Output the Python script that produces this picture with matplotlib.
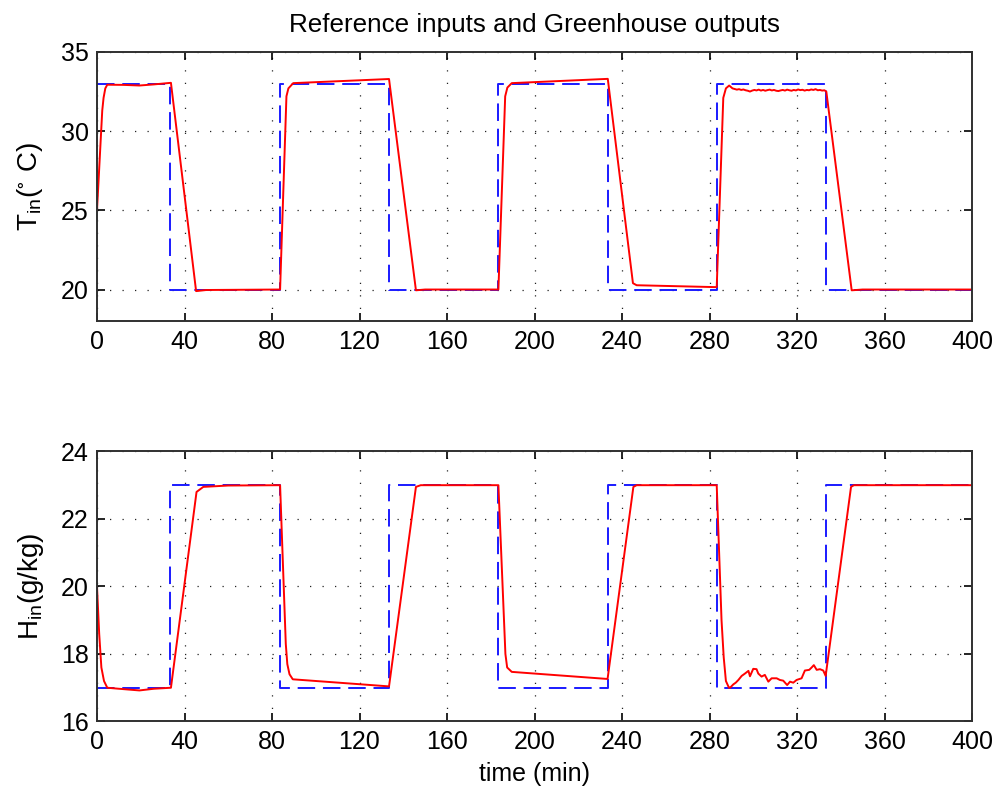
import matplotlib
matplotlib.use("Agg")
import matplotlib.pyplot as plt
import numpy as np

plt.rcParams['font.family'] = ['Liberation Sans', 'DejaVu Sans']
plt.rcParams['mathtext.fontset'] = 'custom'
plt.rcParams['mathtext.rm'] = 'Liberation Sans'

# reference (setpoint) steps
ref_t = [0, 33.5, 83.5, 133.5, 183.5, 233.5, 283.4, 333.4, 400]
T_ref = [33, 20, 33, 20, 33, 20, 33, 20, 20]
H_ref = [17, 23, 17, 23, 17, 23, 17, 23, 23]

# greenhouse inside temperature
T_t = [0, 2.4, 3.0, 3.8, 4.7, 12, 19.4, 26, 33.8, 45.3, 50, 83.7,
       86.6, 87.5, 89.7, 133.5, 145.8, 150, 183.5,
       186.6, 187.6, 189.6, 233.5, 245.0, 246.7, 283.3,
       286.3, 287.5, 289, 290.5, 291.5, 292.5, 293.5, 294.5, 295.5, 296.5,
       297.5, 298.5, 299.5, 300.5, 301.5, 302.5, 303.5, 304.5, 305.5, 306.5,
       307.5, 308.5, 309.5, 310.5, 311.5, 312.5, 313.5, 314.5, 315.5, 316.5,
       317.5, 318.5, 319.5, 320.5, 321.5, 322.5, 323.5, 324.5, 325.5, 326.5,
       327.5, 328.5, 329.5, 330.5, 331.5, 332.5, 333.4,
       345.0, 350, 400]
T_in = [25, 31.3, 32.1, 32.7, 32.93, 32.92, 32.88, 32.95, 33.05, 19.9, 19.97, 20.0,
        32.2, 32.7, 33.03, 33.29, 19.95, 20.0, 20.0,
        32.2, 32.75, 33.03, 33.3, 20.4, 20.27, 20.15,
        32.1, 32.7, 32.88, 32.7, 32.66, 32.62, 32.65, 32.6, 32.63, 32.58,
        32.55, 32.5, 32.56, 32.6, 32.57, 32.62, 32.56, 32.6, 32.55, 32.59,
        32.62, 32.57, 32.6, 32.55, 32.53, 32.57, 32.6, 32.56, 32.62, 32.58,
        32.55, 32.6, 32.57, 32.63, 32.59, 32.61, 32.56, 32.6, 32.58, 32.63,
        32.6, 32.65, 32.58, 32.6, 32.56, 32.58, 32.5,
        19.95, 20.0, 20.0]

# greenhouse inside humidity
H_t = [0, 1, 2, 3.2, 4.7, 10, 19.4, 26, 33.8, 45.5, 48.6, 60, 83.7,
       86.3, 87.0, 88, 89.5, 133.5, 145.8, 148, 183.5,
       186.7, 187.5, 189.6, 233.4, 245.2, 246.7, 283.3,
       285.5, 286.5, 287.5, 288.9,
       289.4, 290.9, 292.0, 293.2, 294.7, 296.2, 297.8, 298.5, 300.0, 301.5,
       302.3, 303.8, 305.3, 306.9, 308.4, 310.7, 312.2, 313.7, 315.5, 316.8,
       318.3, 319.8, 322.1, 323.6, 325.6, 326.7, 327.7, 329.0, 330.5, 332.0,
       333.1, 344.7, 346, 400]
H_in = [20.0, 18.6, 17.6, 17.2, 17.0, 16.97, 16.92, 16.97, 17.0, 22.8, 22.95, 22.99, 23.0,
        18.3, 17.7, 17.4, 17.25, 17.04, 22.95, 23.0, 23.0,
        18.0, 17.6, 17.47, 17.26, 22.95, 23.0, 23.0,
        19.0, 17.9, 17.2, 17.0,
        17.0, 17.1, 17.15, 17.23, 17.35, 17.42, 17.5, 17.34, 17.56, 17.55,
        17.42, 17.33, 17.38, 17.18, 17.28, 17.28, 17.23, 17.21, 17.08, 17.18,
        17.15, 17.23, 17.28, 17.51, 17.53, 17.6, 17.67, 17.53, 17.55, 17.51,
        17.35, 22.95, 23.0, 23.0]

x_ticks = [0, 40, 80, 120, 160, 200, 240, 280, 320, 360, 400]

fig = plt.figure(figsize=(10, 7.99), dpi=100)
ax1 = fig.add_axes([0.097, 0.598, 0.875, 0.337])
ax2 = fig.add_axes([0.097, 0.097, 0.875, 0.338])


def style_axis(ax):
    ax.set_xlim(0, 400)
    ax.set_xticks(x_ticks)
    ax.grid(True, color='#222222', linestyle=(0, (1, 9)), linewidth=0.9)
    ax.tick_params(direction='in', length=6, width=1.2, labelsize=18,
                   top=True, right=True, pad=6)
    for s in ax.spines.values():
        s.set_linewidth(1.4)
        s.set_color('#303030')


ax1.plot(ref_t, T_ref, drawstyle='steps-post', color='#1a1aff',
         linewidth=1.4, dashes=(9, 4))
ax1.plot(T_t, T_in, color='red', linewidth=1.4)
ax1.set_ylim(18, 35)
ax1.set_yticks([20, 25, 30, 35])
ax1.set_ylabel(r'$\mathregular{T_{in}(^{\circ}\ C)}$', fontsize=20, labelpad=11)
ax1.set_title('Reference inputs and Greenhouse outputs', fontsize=18.7, pad=14)
style_axis(ax1)

ax2.plot(ref_t, H_ref, drawstyle='steps-post', color='#1a1aff',
         linewidth=1.4, dashes=(9, 4))
ax2.plot(H_t, H_in, color='red', linewidth=1.4)
ax2.set_ylim(16, 24)
ax2.set_yticks([16, 18, 20, 22, 24])
ax2.set_ylabel(r'$\mathregular{H_{in}(g/kg)}$', fontsize=20, labelpad=11)
ax2.set_xlabel('time (min)', fontsize=18, labelpad=6)
style_axis(ax2)

fig.savefig('out.png', dpi=100)
